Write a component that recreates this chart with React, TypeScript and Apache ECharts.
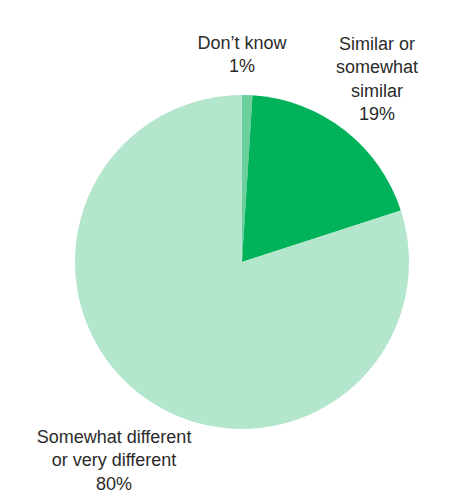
import React, { useEffect, useRef } from "react";
import * as echarts from "echarts";

const categories = ["Don\u2019t know", "Similar or\nsomewhat\nsimilar", "Somewhat different\nor very different"];
const values = [1, 19, 80];
const colors = ["#6dcf9d", "#00b259", "#b3e6cc"];
const labelAnchors = [
  { x: 242, y: 31 },
  { x: 377, y: 32 },
  { x: 114, y: 425 },
];

export default function App() {
  const ref = useRef<HTMLDivElement>(null);
  useEffect(() => {
    document.body.style.margin = "0";
    const chart = echarts.init(ref.current!, null, { renderer: "svg" });
    chart.setOption({
      animation: false,
      backgroundColor: "#ffffff",
      series: [
        {
          type: "pie",
          center: [242, 262],
          radius: [0, 167],
          startAngle: 90,
          clockwise: true,
          silent: true,
          data: categories.map((name, i) => ({
            name,
            value: values[i],
            itemStyle: { color: colors[i] },
          })),
          label: {
            show: true,
            position: "outside",
            alignTo: "none",
            overflow: "none",
            formatter: (p: any) => `${p.name}\n${p.value}%`,
            fontFamily: "Liberation Sans, Arial, sans-serif",
            fontSize: 18,
            lineHeight: 23.5,
            color: "#2b2b2b",
            align: "center",
          },
          labelLine: { show: false },
          labelLayout: (params: any) => ({
            x: labelAnchors[params.dataIndex].x,
            y: labelAnchors[params.dataIndex].y,
            align: "center",
            verticalAlign: "top",
            width: 300,
          }),
        },
      ],
    });
    return () => chart.dispose();
  }, []);
  return <div ref={ref} style={{ width: 458, height: 497 }} />;
}
